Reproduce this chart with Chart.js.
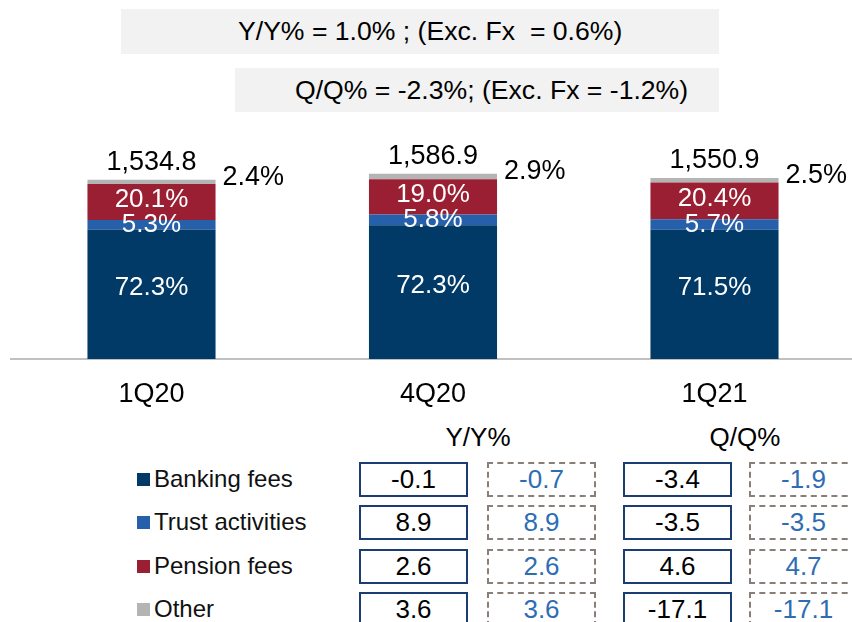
<!DOCTYPE html>
<html>
<head>
<meta charset="utf-8">
<script src="https://cdn.jsdelivr.net/npm/chart.js@4/dist/chart.umd.min.js"></script>
<style>
    body { margin:0; width:852px; height:622px; overflow:hidden; background:#fff; font-family:'Liberation Sans', Arial, sans-serif; position:relative; }
    #chart1 { position:absolute; left:0; top:0; }
    .note { position:absolute; background:#f2f2f2; color:#000; font-size:26.6px; line-height:44px; white-space:pre; }
    .hdr { position:absolute; font-size:26px; color:#000; transform:translateX(-50%); line-height:30px; }
    .leg { position:absolute; left:137px; font-size:24px; color:#111; line-height:30px; white-space:nowrap; }
    .leg span { display:inline-block; width:13px; height:13px; margin-right:4px; vertical-align:1px; }
    .box { position:absolute; box-sizing:border-box; width:109px; height:35px; font-size:26px; line-height:31px; text-align:center; }
    .solid { border:2px solid #1c3c74; color:#000; }
    .dash { border:2px dashed #8a7f78; color:#2e6db4; }
</style>
</head>
<body>
<div class="note" style="left:121px;top:9px;width:481px;height:45px;padding-left:117px;">Y/Y% = 1.0% ; (Exc. Fx  = 0.6%)</div>
<div class="note" style="left:235px;top:68px;width:424px;height:44px;padding-left:60px;">Q/Q% = -2.3%; (Exc. Fx = -1.2%)</div>
<canvas id="chart1" width="880" height="420"></canvas>
<div id="table"></div>
<script>
// data
var quarters = ['1Q20', '4Q20', '1Q21'];
var totals = [1534.8, 1586.9, 1550.9];
var bankingShare = [72.3, 72.3, 71.5];
var trustShare = [5.3, 5.8, 5.7];
var pensionShare = [20.1, 19.0, 20.4];
var otherShare = [2.4, 2.9, 2.5];

var segments = ['Banking fees', 'Trust activities', 'Pension fees', 'Other'];
var colors = ['#013a66', '#2660ab', '#9b1f33', '#b4b4b4'];

var yoy = [-0.1, 8.9, 2.6, 3.6];
var yoyExFx = [-0.7, 8.9, 2.6, 3.6];
var qoq = [-3.4, -3.5, 4.6, -17.1];
var qoqExFx = [-1.9, -3.5, 4.7, -17.1];

var shares = [bankingShare, trustShare, pensionShare, otherShare];
var font = "26px 'Liberation Sans', Arial, sans-serif";
var bigFont = "27px 'Liberation Sans', Arial, sans-serif";

// segment amount = total * share
function amounts(share) {
    return share.map((s, i) => totals[i] * s / 100);
}

var labelPlugin = {
    id: 'labels',
    afterDatasetsDraw(chart) {
        let ctx = chart.ctx;
        ctx.save();
        ctx.textBaseline = 'middle';
        chart.data.datasets.forEach((ds, di) => {
            chart.getDatasetMeta(di).data.forEach((bar, i) => {
                let p = bar.getProps(['x', 'y', 'base', 'width'], true);
                let txt = shares[di][i].toFixed(1) + '%';
                if (di < 3) {
                    ctx.font = font;
                    ctx.fillStyle = '#fff';
                    ctx.textAlign = 'center';
                    let off = di == 0 ? -6 : (di == 2 ? -2 : 0);
                    ctx.fillText(txt, p.x, (p.y + p.base) / 2 + off);
                } else {
                    ctx.font = bigFont;
                    ctx.fillStyle = '#000';
                    ctx.textAlign = 'left';
                    ctx.fillText(txt, p.x + p.width / 2 + 7, p.y - 2);
                    ctx.textAlign = 'center';
                    ctx.fillText(totals[i].toLocaleString('en-US', {minimumFractionDigits: 1}), p.x, p.y - 17);
                }
            });
        });
        ctx.restore();
    }
};

var chart = new Chart('chart1', {
    type: 'bar',
    data: {
        labels: quarters,
        datasets: segments.map((name, k) => ({
            label: name,
            data: amounts(shares[k]),
            backgroundColor: colors[k],
            borderWidth: 0,
            barPercentage: 0.455,
            categoryPercentage: 1
        }))
    },
    options: {
        responsive: false,
        animation: false,
        devicePixelRatio: 1,
        layout: { padding: { top: 149, left: 10.75, right: 24.75, bottom: 1 } },
        plugins: { legend: { display: false }, tooltip: { enabled: false } },
        scales: {
            x: {
                stacked: true,
                grid: { display: false },
                border: { display: true, color: '#c0c0c0', width: 2 },
                ticks: { color: '#000', padding: 11, font: { family: 'Liberation Sans', size: 27 } },
                afterFit: (scale) => { scale.height = 60; }
            },
            y: { stacked: true, display: false, min: 0, max: 1800 }
        }
    },
    plugins: [labelPlugin]
});

// legend + growth table below the chart
var html = '<div class="hdr" style="left:478px;top:422px;">Y/Y%</div>' +
           '<div class="hdr" style="left:745px;top:422px;">Q/Q%</div>';
chart.data.datasets.forEach((ds, r) => {
    let top = 462 + r * 43.3;
    html += '<div class="leg" style="top:' + (top + 2) + 'px"><span style="background:' + ds.backgroundColor + '"></span>' + ds.label + '</div>';
    html += '<div class="box solid" style="left:359px;top:' + top + 'px">' + yoy[r].toFixed(1) + '</div>';
    html += '<div class="box dash" style="left:487px;top:' + top + 'px">' + yoyExFx[r].toFixed(1) + '</div>';
    html += '<div class="box solid" style="left:623px;top:' + top + 'px">' + qoq[r].toFixed(1) + '</div>';
    html += '<div class="box dash" style="left:749px;top:' + top + 'px">' + qoqExFx[r].toFixed(1) + '</div>';
});
document.getElementById('table').innerHTML = html;
</script>
</body>
</html>
